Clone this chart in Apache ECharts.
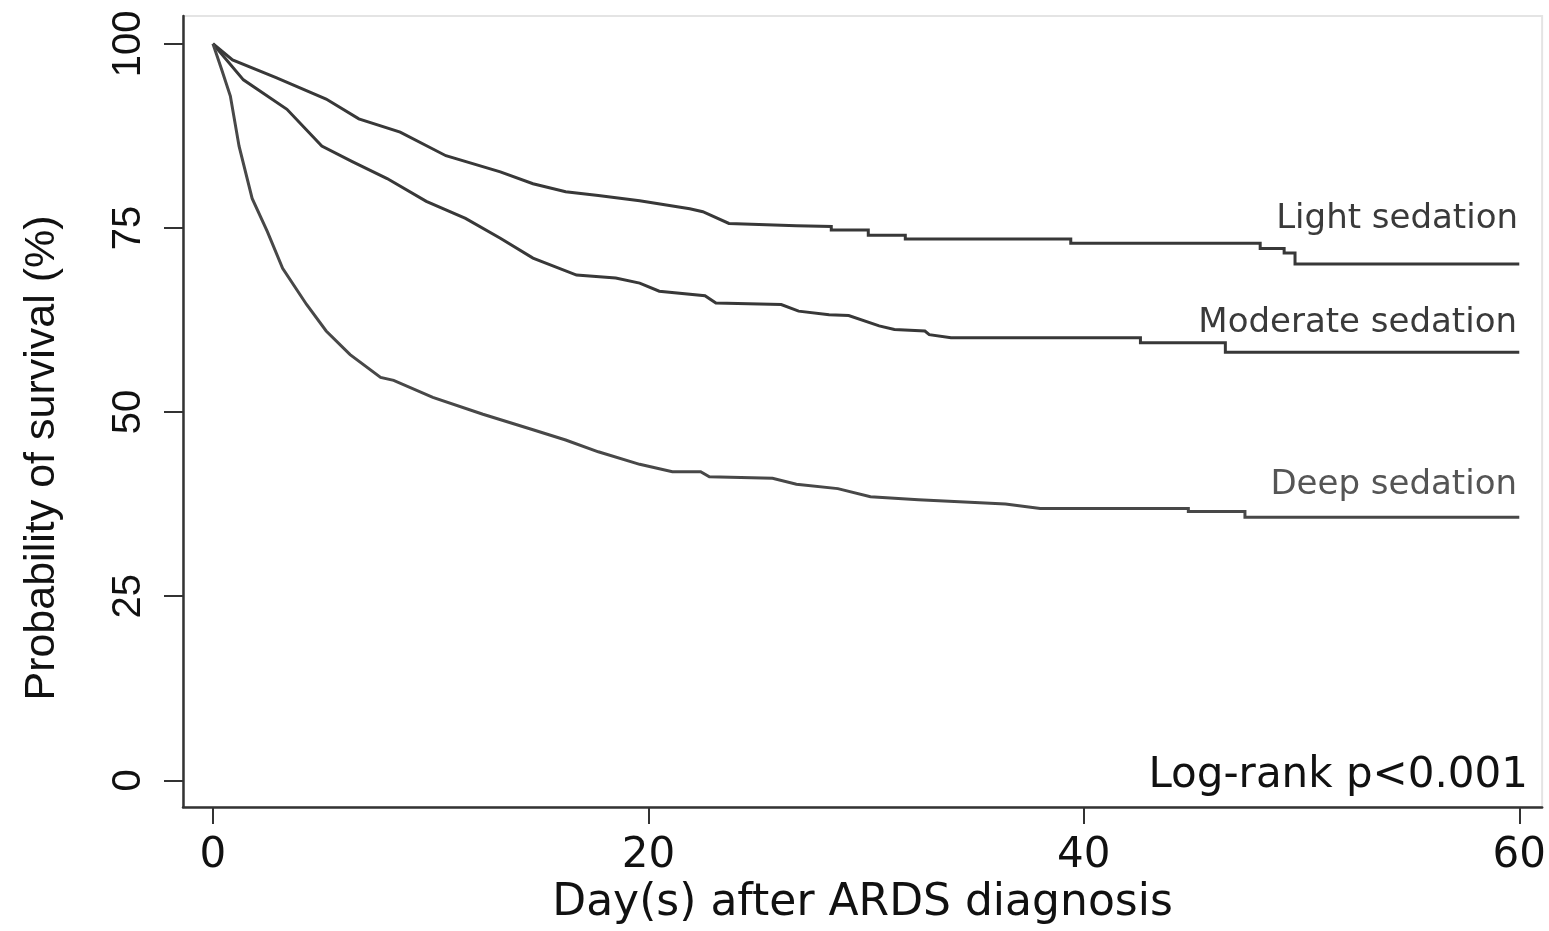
<!DOCTYPE html>
<html>
<head>
<meta charset="utf-8">
<script src="https://cdn.jsdelivr.net/npm/echarts@6/dist/echarts.min.js"></script>
<style>
html,body{margin:0;padding:0;background:#fff;}
#c{width:1549px;height:931px;}
</style>
</head>
<body>
<div id="c"></div>
<script>
// ---- data (days, survival %) ----
var seriesNames = ['Light sedation', 'Moderate sedation', 'Deep sedation'];
var xTicks = [0, 20, 40, 60];
var yTicks = [0, 25, 50, 75, 100];
var xTitle = 'Day(s) after ARDS diagnosis';
var yTitle = 'Probability of survival (%)';
var noteText = 'Log-rank p<0.001';

var light = [[0,100],[0.9,97.8],[2.9,95.4],[5.2,92.5],[6.7,89.8],[8.6,88.0],[10.7,84.8],[13.2,82.6],[14.7,81.0],[16.2,79.9],[17.7,79.4],[19.6,78.7],[21.9,77.6],[22.5,77.2],[23.7,75.6],[26.8,75.3],[26.8,75.2],[28.4,75.2],[28.4,74.7],[30.1,74.7],[30.1,74.0],[31.8,74.0],[31.8,73.5],[39.4,73.5],[39.4,72.9],[48.1,72.9],[48.1,72.2],[49.2,72.2],[49.2,71.6],[49.7,71.6],[49.7,70.1],[60,70.1]];
var moderate = [[0,100],[1.4,95.1],[3.4,91.1],[5.0,86.1],[6.4,84.0],[8.0,81.7],[9.8,78.6],[11.6,76.3],[13.2,73.6],[14.7,70.9],[16.7,68.6],[18.5,68.2],[19.6,67.5],[20.5,66.4],[22.6,65.8],[23.1,64.8],[26.1,64.6],[26.9,63.7],[28.3,63.2],[29.2,63.1],[30.6,61.7],[31.3,61.2],[32.7,61.0],[32.9,60.5],[33.9,60.1],[42.6,60.1],[42.6,59.4],[46.5,59.4],[46.5,58.1],[60,58.1]];
var deep = [[0,100],[0.4,96.5],[0.8,92.9],[1.2,86.1],[1.8,79.0],[2.5,74.5],[3.2,69.5],[4.3,64.6],[5.2,61.0],[6.3,57.8],[7.7,54.7],[8.3,54.3],[10.1,52.0],[12.4,49.7],[14.7,47.6],[16.2,46.2],[17.7,44.6],[19.6,42.9],[21.1,41.9],[22.4,41.9],[22.8,41.2],[25.7,41.0],[26.8,40.2],[28.7,39.6],[30.2,38.5],[32.4,38.1],[36.4,37.5],[38.0,36.9],[44.8,36.9],[44.8,36.5],[47.4,36.5],[47.4,35.7],[60,35.7]];

var chart = echarts.init(document.getElementById('c'), null, {renderer: 'canvas'});
var axisColor = '#333';
var lineColors = ['#383838', '#383838', '#484848'];
var datasets = [light, moderate, deep];

var option = {
  backgroundColor: '#fff',
  animation: false,
  grid: {left: 183, right: 4, top: 16, bottom: 118, show: true, borderColor: '#e4e4e4', borderWidth: 2, backgroundColor: 'transparent'},
  xAxis: {
    type: 'value', min: -1.375, max: 61.05,
    name: xTitle, nameLocation: 'middle', nameGap: 72,
    nameTextStyle: {fontFamily: 'DejaVu Sans', fontSize: 44, color: '#111'},
    axisLine: {show: true, onZero: false, lineStyle: {color: axisColor, width: 2.5}},
    axisTick: {show: true, length: 17, lineStyle: {color: axisColor, width: 2}, customValues: xTicks},
    axisLabel: {fontFamily: 'DejaVu Sans', fontSize: 42, color: '#111', margin: 28, customValues: xTicks, showMinLabel: true, showMaxLabel: true},
    splitLine: {show: false}
  },
  yAxis: {
    type: 'value', min: -3.64, max: 103.77,
    axisLine: {show: true, onZero: false, lineStyle: {color: axisColor, width: 2.5}},
    axisTick: {show: true, length: 19, lineStyle: {color: axisColor, width: 2}, customValues: yTicks},
    axisLabel: {fontFamily: 'Liberation Sans', fontSize: 40, color: '#111', rotate: 90, margin: 34, customValues: yTicks},
    splitLine: {show: false}
  },
  series: datasets.map(function (d, i) {
    return {
      type: 'line', name: seriesNames[i], data: d, showSymbol: false, symbol: 'none',
      lineStyle: {color: lineColors[i], width: 3, join: 'miter'}, z: 3
    };
  }),
  graphic: [
    {type: 'text', x: 42, y: 458, rotation: Math.PI / 2, style: {text: yTitle, fontFamily: 'Liberation Sans', fontSize: 43, fill: '#111', align: 'center', verticalAlign: 'middle'}},
    {type: 'text', x: 1518, y: 219, style: {text: seriesNames[0], fontFamily: 'DejaVu Sans', fontSize: 34, fill: '#3a3a3a', align: 'right', verticalAlign: 'middle'}},
    {type: 'text', x: 1517, y: 323, style: {text: seriesNames[1], fontFamily: 'DejaVu Sans', fontSize: 34, fill: '#3a3a3a', align: 'right', verticalAlign: 'middle'}},
    {type: 'text', x: 1517, y: 485, style: {text: seriesNames[2], fontFamily: 'DejaVu Sans', fontSize: 34, fill: '#555', align: 'right', verticalAlign: 'middle'}},
    {type: 'text', x: 1528, y: 776, style: {text: noteText, fontFamily: 'DejaVu Sans', fontSize: 42, fill: '#111', align: 'right', verticalAlign: 'middle'}}
  ]
};
chart.setOption(option);
</script>
</body>
</html>
